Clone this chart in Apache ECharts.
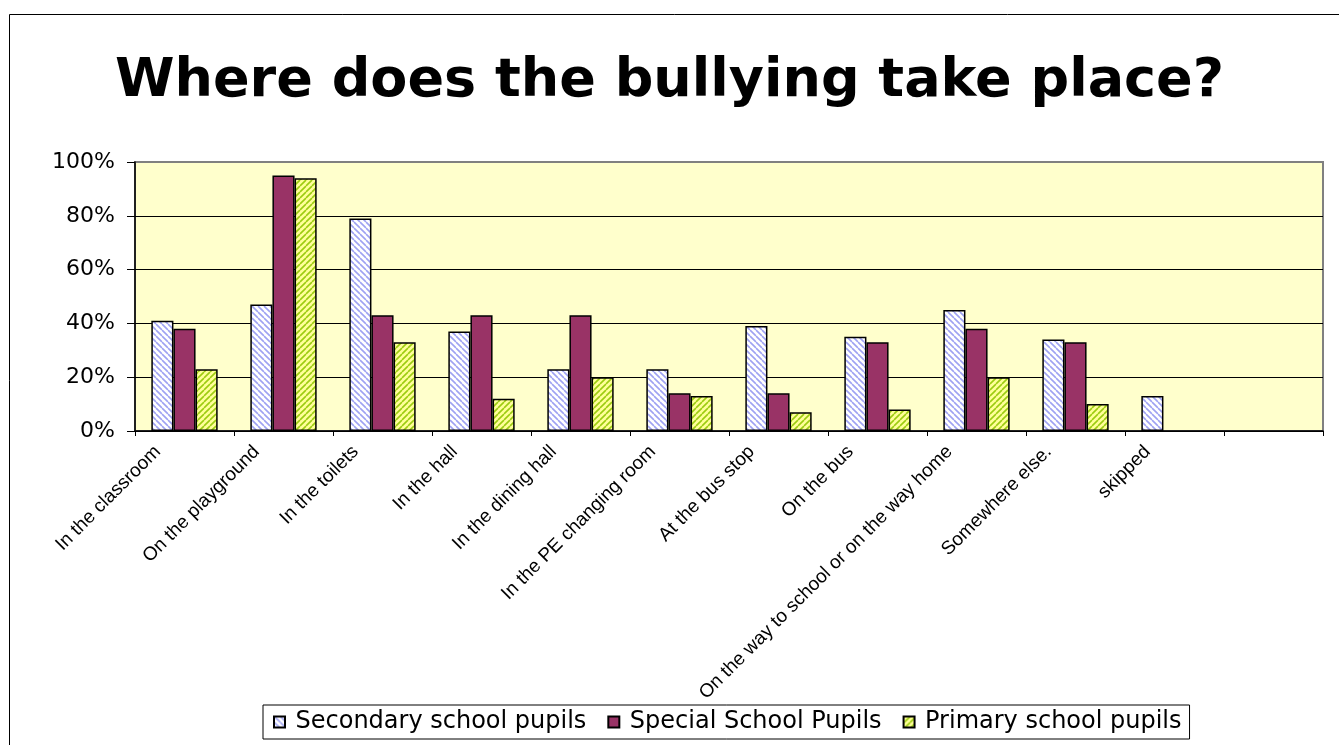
<!DOCTYPE html>
<html>
<head>
<meta charset="utf-8">
<title>Where does the bullying take place?</title>
<script src="https://cdn.jsdelivr.net/npm/echarts@6/dist/echarts.min.js"></script>
<style>
  html, body { margin: 0; padding: 0; background: #fff; }
  #chart1 { width: 1339px; height: 745px; }
</style>
</head>
<body>
<div id="chart1"></div>
<script>
var categories = ['In the classroom', 'On the playground', 'In the toilets', 'In the hall',
  'In the dining hall', 'In the PE changing room', 'At the bus stop', 'On the bus',
  'On the way to school or on the way home', 'Somewhere else.', 'skipped', ''];
var secondary = [41, 47, 79, 37, 23, 23, 39, 35, 45, 34, 13, null];
var special = [38, 95, 43, 43, 43, 14, 14, 33, 38, 33, null, null];
var primary = [23, 94, 33, 12, 20, 13, 7, 8, 20, 10, null, null];
var yTicks = [0, 20, 40, 60, 80, 100];

// diagonal hatch tile, like the excel pattern fills
function makeHatch(bg, fg, down) {
  var s = 6;
  var c = document.createElement('canvas');
  c.width = s; c.height = s;
  var ctx = c.getContext('2d');
  ctx.fillStyle = bg;
  ctx.fillRect(0, 0, s, s);
  ctx.strokeStyle = fg;
  ctx.lineWidth = 1.6;
  ctx.beginPath();
  for (var k = -1; k <= 1; k++) {
    if (down) { ctx.moveTo(k * s, 0); ctx.lineTo(k * s + s, s); }
    else { ctx.moveTo(k * s, s); ctx.lineTo(k * s + s, 0); }
  }
  ctx.stroke();
  return c;
}

function chart() {
  var mychart = echarts.init(document.getElementById('chart1'));
  var barBorder = { borderColor: '#000', borderWidth: 1.5 };

  option = {
    backgroundColor: '#fff',
    title: {
      text: 'Where does the bullying take place?',
      left: 'center',
      top: 50,
      textStyle: {
        fontFamily: 'DejaVu Sans',
        fontWeight: 'bold',
        fontSize: 54,
        color: '#000'
      }
    },
    graphic: [{
      type: 'rect',
      shape: { x: 9.5, y: 14.5, width: 1400, height: 800 },
      style: { fill: 'none', stroke: '#000', lineWidth: 1 },
      silent: true
    }],
    legend: {
      left: 263,
      top: 705,
      padding: [5, 8, 5, 10],
      borderColor: '#000',
      borderWidth: 1,
      itemGap: 21,
      itemWidth: 22,
      itemHeight: 11,
      icon: 'path://M0,0H10V10H0Z',
      textStyle: {
        fontFamily: 'DejaVu Sans',
        fontSize: 24,
        color: '#000'
      }
    },
    grid: {
      left: 135,
      right: 16,
      top: 162,
      bottom: 314,
      show: true,
      backgroundColor: '#ffffcc',
      borderColor: '#808080',
      borderWidth: 2
    },
    xAxis: [{
      type: 'category',
      data: categories,
      axisLine: { lineStyle: { color: '#000', width: 1.5 } },
      axisTick: { show: true, length: 5, lineStyle: { color: '#000' } },
      axisLabel: {
        interval: 0,
        rotate: 45,
        margin: -9,
        // pushes the label ends left of the category centre, as excel drew them
        padding: [0, 38, 0, 0],
        fontFamily: 'Liberation Sans',
        fontSize: 19,
        color: '#000'
      }
    }],
    yAxis: [{
      type: 'value',
      min: yTicks[0],
      max: yTicks[yTicks.length - 1],
      interval: 20,
      axisLine: { show: true, lineStyle: { color: '#000', width: 1.5 } },
      axisTick: { show: true, length: 8, lineStyle: { color: '#000' } },
      axisLabel: {
        formatter: '{value}%',
        margin: 20,
        fontFamily: 'DejaVu Sans',
        fontSize: 22,
        color: '#000'
      },
      splitLine: { show: true, showMaxLine: false, lineStyle: { color: '#000', width: 1 } }
    }],
    series: [{
      name: 'Secondary school pupils',
      type: 'bar',
      data: secondary,
      barGap: '0%',
      barCategoryGap: '33%',
      itemStyle: Object.assign({ color: { image: makeHatch('#ffffff', '#9ea2f2', true), repeat: 'repeat' } }, barBorder)
    }, {
      name: 'Special School Pupils',
      type: 'bar',
      data: special,
      itemStyle: Object.assign({ color: '#993366' }, barBorder)
    }, {
      name: 'Primary school pupils',
      type: 'bar',
      data: primary,
      itemStyle: Object.assign({ color: { image: makeHatch('#ffff99', '#9ccc10', false), repeat: 'repeat' } }, barBorder)
    }]
  };

  mychart.setOption(option);
}
chart();
</script>
</body>
</html>
